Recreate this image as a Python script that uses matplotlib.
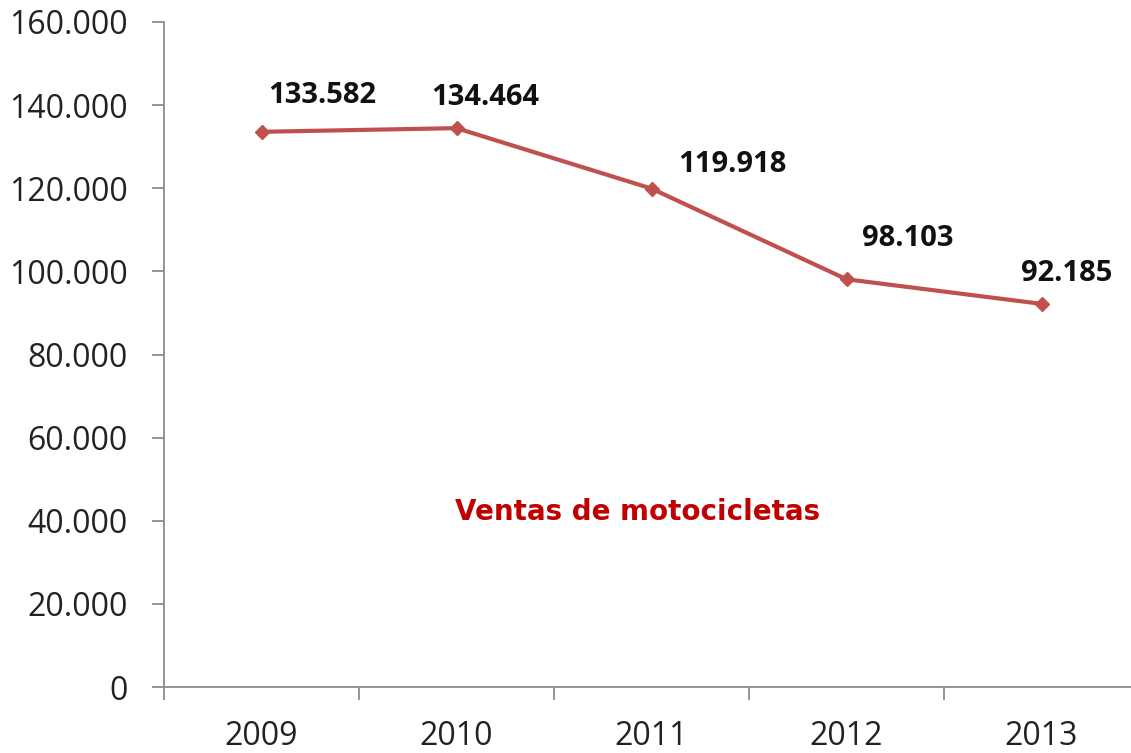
import matplotlib
matplotlib.use("Agg")
import matplotlib.pyplot as plt
from matplotlib.ticker import FuncFormatter, FixedLocator

years = ["2009", "2010", "2011", "2012", "2013"]
sales = [133582, 134464, 119918, 98103, 92185]
value_labels = ["133.582", "134.464", "119.918", "98.103", "92.185"]
yticks = [0, 20000, 40000, 60000, 80000, 100000, 120000, 140000, 160000]
chart_text = "Ventas de motocicletas"

# label offsets in points (style, not data)
label_offsets = [(44, 26), (21, 22), (58, 17), (44, 29), (18, 22)]

fig = plt.figure(figsize=(11.31, 7.53), dpi=100)
W, H = 1131, 753
ax = fig.add_axes([164 / W, (H - 687) / H, (1139 - 164) / W, (687 - 22) / H])

x = list(range(len(years)))
ax.plot(x, sales, color="#C0504D", lw=3, marker="D", ms=7, mec="#C0504D", mfc="#C0504D", zorder=3)

ax.set_xlim(-0.5, len(years) - 0.5)
ax.set_ylim(0, 160000)
ax.set_yticks(yticks)
ax.yaxis.set_major_formatter(FuncFormatter(lambda v, p: f"{int(v):,}".replace(",", ".")))

ax.set_xticks(x)
ax.set_xticklabels(years)
ax.xaxis.set_minor_locator(FixedLocator([i - 0.5 for i in range(len(years) + 1)]))
ax.tick_params(axis="x", which="major", length=0, pad=24, labelsize=23, labelcolor="#222222")
ax.tick_params(axis="x", which="minor", length=9, width=1.3, color="#8c8c8c", direction="out")
ax.tick_params(axis="y", which="major", length=9, width=1.3, color="#8c8c8c", pad=17,
               labelsize=23, labelcolor="#222222")

for t in ax.get_xticklabels() + ax.get_yticklabels():
    t.set_fontfamily(["Open Sans", "DejaVu Sans"])

for s in ["top", "right"]:
    ax.spines[s].set_visible(False)
for s in ["left", "bottom"]:
    ax.spines[s].set_color("#8c8c8c")
    ax.spines[s].set_linewidth(1.3)

for xi, yi, lab, off in zip(x, sales, value_labels, label_offsets):
    ax.annotate(lab, (xi, yi), xytext=off, textcoords="offset points",
                ha="center", va="center", fontsize=21, fontweight="bold",
                family=["Open Sans", "DejaVu Sans"], color="#111111")

ax.text(1.93, 42000, chart_text, ha="center", va="center", fontsize=20,
        fontweight="bold", color="#C00000", family=["DejaVu Sans"])

fig.savefig("out.png", dpi=100)
